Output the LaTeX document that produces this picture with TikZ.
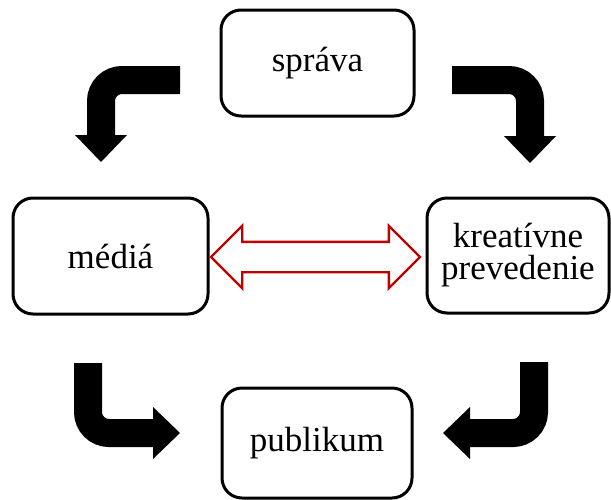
\documentclass[tikz,border=0pt]{standalone}
\usepackage{fontspec}
\setmainfont{Liberation Serif}
\usetikzlibrary{arrows.meta,shapes.arrows}
\definecolor{linkred}{RGB}{192,0,0}

\begin{document}
\begin{tikzpicture}[x = 0.5pt, y = -0.5pt,
        box/.style = {draw, line width = 1.5pt, rounded corners = 10pt, align = center, font = \fontsize{17.5}{16}\selectfont},
        turn/.style = {line width = 14pt, rounded corners = 10.5pt, -{Triangle[length = 13.5pt, width = 26pt, line width = 0pt]}}]
        \useasboundingbox (0,0) rectangle (611,499);

        \node [box, minimum width = 96.5pt, minimum height = 53pt] (sprava) at (317.5, 63) {správa};
        \node [box, minimum width = 97.5pt, minimum height = 58pt] (media) at (110.5, 256) {médiá};
        \node [box, minimum width = 91pt, minimum height = 57.5pt] (kreat) at (518, 255.5) {kreatívne\\prevedenie};
        \node [box, minimum width = 95pt, minimum height = 55pt] (publikum) at (317, 443) {publikum};

        % hollow link between the two middle boxes
        \node [double arrow, draw = linkred, line width = 1.2pt, minimum height = 104.5pt, minimum width = 30pt,
               inner xsep = 0pt, inner ysep = 7pt, double arrow head extend = 8pt] (link) at (315.5, 257) {};

        \coordinate (tl1) at (180, 80);
        \coordinate (tl2) at (101, 162);
        \coordinate (tr1) at (452, 80);
        \coordinate (tr2) at (530, 163);
        \coordinate (bl1) at (88, 363);
        \coordinate (bl2) at (180, 433);
        \coordinate (br1) at (534, 362);
        \coordinate (br2) at (443, 433);

        \draw [turn] (tl1) -| (tl2);
        \draw [turn] (tr1) -| (tr2);
        \draw [turn] (bl1) |- (bl2);
        \draw [turn] (br1) |- (br2);
\end{tikzpicture}
\end{document}
